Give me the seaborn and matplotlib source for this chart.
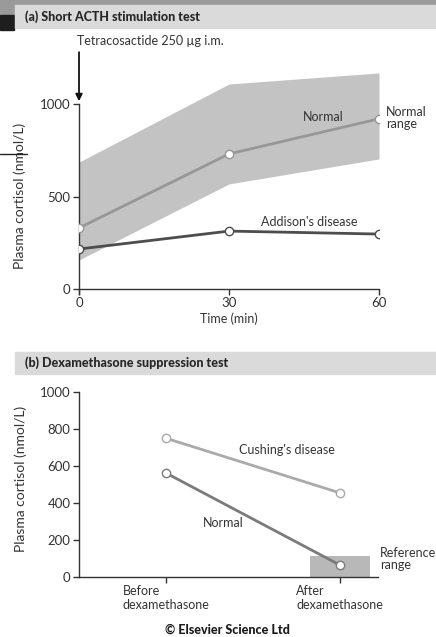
import numpy as np
import matplotlib.pyplot as plt
import matplotlib.patches as mpatches
import matplotlib.lines as mlines
import seaborn as sns
import pandas as pd

# (a) short ACTH stimulation test
times = [0, 30, 60]
normal_mean = [330, 730, 920]
normal_low = [157, 568, 703]
normal_high = [686, 1108, 1168]
addison = [216, 313, 297]

# (b) dexamethasone suppression test
stages = ["Before\ndexamethasone", "After\ndexamethasone"]
cushing = [750, 455]
normal_dex = [562, 65]
ref_range_top = 115

sns.set_style('ticks')
plt.rcParams['font.family'] = ['Lato', 'DejaVu Sans']

fig = plt.figure(figsize=(4.36, 6.37), dpi=100)
W, H = 436, 637

def fx(px):
    return px / W

def fy(py):
    return 1 - py / H

# scanning artefacts round the top left corner
fig.patches.append(mpatches.Rectangle((0, fy(5)), 1, 5 / H, transform=fig.transFigure,
                                      color='#9a9a9a', zorder=0))
fig.patches.append(mpatches.Rectangle((0, fy(15)), fx(14), 10 / H, transform=fig.transFigure,
                                      color='#9a9a9a', zorder=0))
fig.patches.append(mpatches.Rectangle((0, fy(30)), fx(14), 15 / H, transform=fig.transFigure,
                                      color='#1e1e1e', zorder=0))
fig.lines.append(mlines.Line2D([0, fx(27)], [fy(154), fy(154)], transform=fig.transFigure,
                               color='#222222', lw=1))

# header bars
for top, bottom, title in [(5, 28, '(a) Short ACTH stimulation test'),
                           (352, 374, '(b) Dexamethasone suppression test')]:
    fig.patches.append(mpatches.Rectangle((fx(15), fy(bottom)), 1 - fx(15), (bottom - top) / H,
                                          transform=fig.transFigure, color='#dadada', zorder=0))
    fig.text(fx(25), fy((top + bottom) / 2), title, fontsize=9, weight='black',
             color='#262626', va='center', ha='left')

ink = '#333333'
small = 9
tickfs = 9.5

# ---------------- panel a ----------------
ylo, yhi = -25, 1300
px_per = 185 / 1000
a_bottom_px = 289 + (-ylo) * px_per
a_height_px = (yhi - ylo) * px_per
ax = fig.add_axes([fx(79), fy(a_bottom_px), fx(379) - fx(79), a_height_px / H])

ax.fill_between(times, normal_low, normal_high, color='#c3c3c3', lw=0, zorder=1)

df_a = pd.DataFrame({'time': times * 2,
                     'cortisol': normal_mean + addison,
                     'group': ['Normal'] * 3 + ["Addison's disease"] * 3})
sns.lineplot(data=df_a, x='time', y='cortisol', hue='group',
             palette={'Normal': '#979797', "Addison's disease": '#4d4d4d'},
             marker='o', markersize=6, markerfacecolor='white', markeredgewidth=1,
             lw=2, legend=False, ax=ax)
for line, c in zip(ax.lines, ['#979797', '#4d4d4d']):
    line.set_markeredgecolor(c)
    line.set_markerfacecolor('white')
    line.set_zorder(3)

ax.set_xlim(0, 60)
ax.set_ylim(ylo, yhi)
ax.set_xticks(times)
ax.set_yticks([0, 500, 1000])
ax.spines['bottom'].set_position(('data', 0))
sns.despine(ax=ax)
ax.spines['left'].set_bounds(ylo, 1000)

ax.set_xlabel('Time (min)', fontsize=small, color=ink, labelpad=2)
ax.set_ylabel('Plasma cortisol (nmol/L)', fontsize=10, color=ink)
ax.yaxis.set_label_coords((26 - 79) / 300, (a_bottom_px - 196) / a_height_px)

ax.annotate('', xy=(0, 1000), xytext=(0, 1295),
            arrowprops=dict(arrowstyle='-|>', color='#111111', lw=1.3, mutation_scale=10),
            annotation_clip=False)
ax.text(-0.4, 1340, 'Tetracosactide 250 µg i.m.', fontsize=small, color=ink,
        ha='left', va='center', clip_on=False)
ax.text(48.8, 930, 'Normal', fontsize=small, color=ink, ha='center', va='center')
ax.text(61.4, 925, 'Normal\nrange', fontsize=small, color=ink, ha='left', va='center',
        linespacing=1.0, clip_on=False)
ax.text(46, 362, "Addison's disease", fontsize=small, color=ink, ha='center', va='center')

# ---------------- panel b ----------------
bx = fig.add_axes([fx(79), fy(577), fx(378) - fx(79), 185 / H])
bx.bar(1, ref_range_top, width=0.345, color='#b8b8b8', lw=0, zorder=1)

df_b = pd.DataFrame({'stage': [0, 1, 0, 1],
                     'cortisol': cushing + normal_dex,
                     'group': ["Cushing's disease"] * 2 + ['Normal'] * 2})
sns.lineplot(data=df_b, x='stage', y='cortisol', hue='group',
             palette={"Cushing's disease": '#aaaaaa', 'Normal': '#7b7b7b'},
             marker='o', markersize=6, markerfacecolor='white', markeredgewidth=1,
             lw=2, legend=False, ax=bx)
for line, c in zip(bx.lines, ['#aaaaaa', '#7b7b7b']):
    line.set_markeredgecolor(c)
    line.set_markerfacecolor('white')
    line.set_zorder(3)

bx.set_xlim(-0.5, 1.22)
bx.set_ylim(0, 1000)
bx.set_xticks([0, 1])
bx.set_xticklabels(stages, multialignment='left')
bx.set_yticks([0, 200, 400, 600, 800, 1000])
sns.despine(ax=bx)
bx.set_xlabel('')
bx.set_ylabel('Plasma cortisol (nmol/L)', fontsize=10, color=ink)
bx.yaxis.set_label_coords((27 - 79) / 299, 0.53)

bx.text(0.695, 686, "Cushing's disease", fontsize=small, color=ink, ha='center', va='center')
bx.text(0.33, 292, 'Normal', fontsize=small, color=ink, ha='center', va='center')
bx.text(1.23, 97, 'Reference\nrange', fontsize=small, color=ink, ha='left', va='center',
        linespacing=1.0, clip_on=False)

for a in (ax, bx):
    a.tick_params(labelsize=tickfs, length=4, width=1, color=ink, labelcolor=ink, pad=2)
    for s in ['left', 'bottom']:
        a.spines[s].set_color(ink)
        a.spines[s].set_linewidth(1)
    a.set_facecolor('none')

for lab in bx.get_xticklabels():
    lab.set_fontsize(small)

fig.text(fx(227), fy(630), '© Elsevier Science Ltd', fontsize=9, weight='black',
         color='#1a1a1a', ha='center', va='center')

fig.savefig('out.png', dpi=100)
